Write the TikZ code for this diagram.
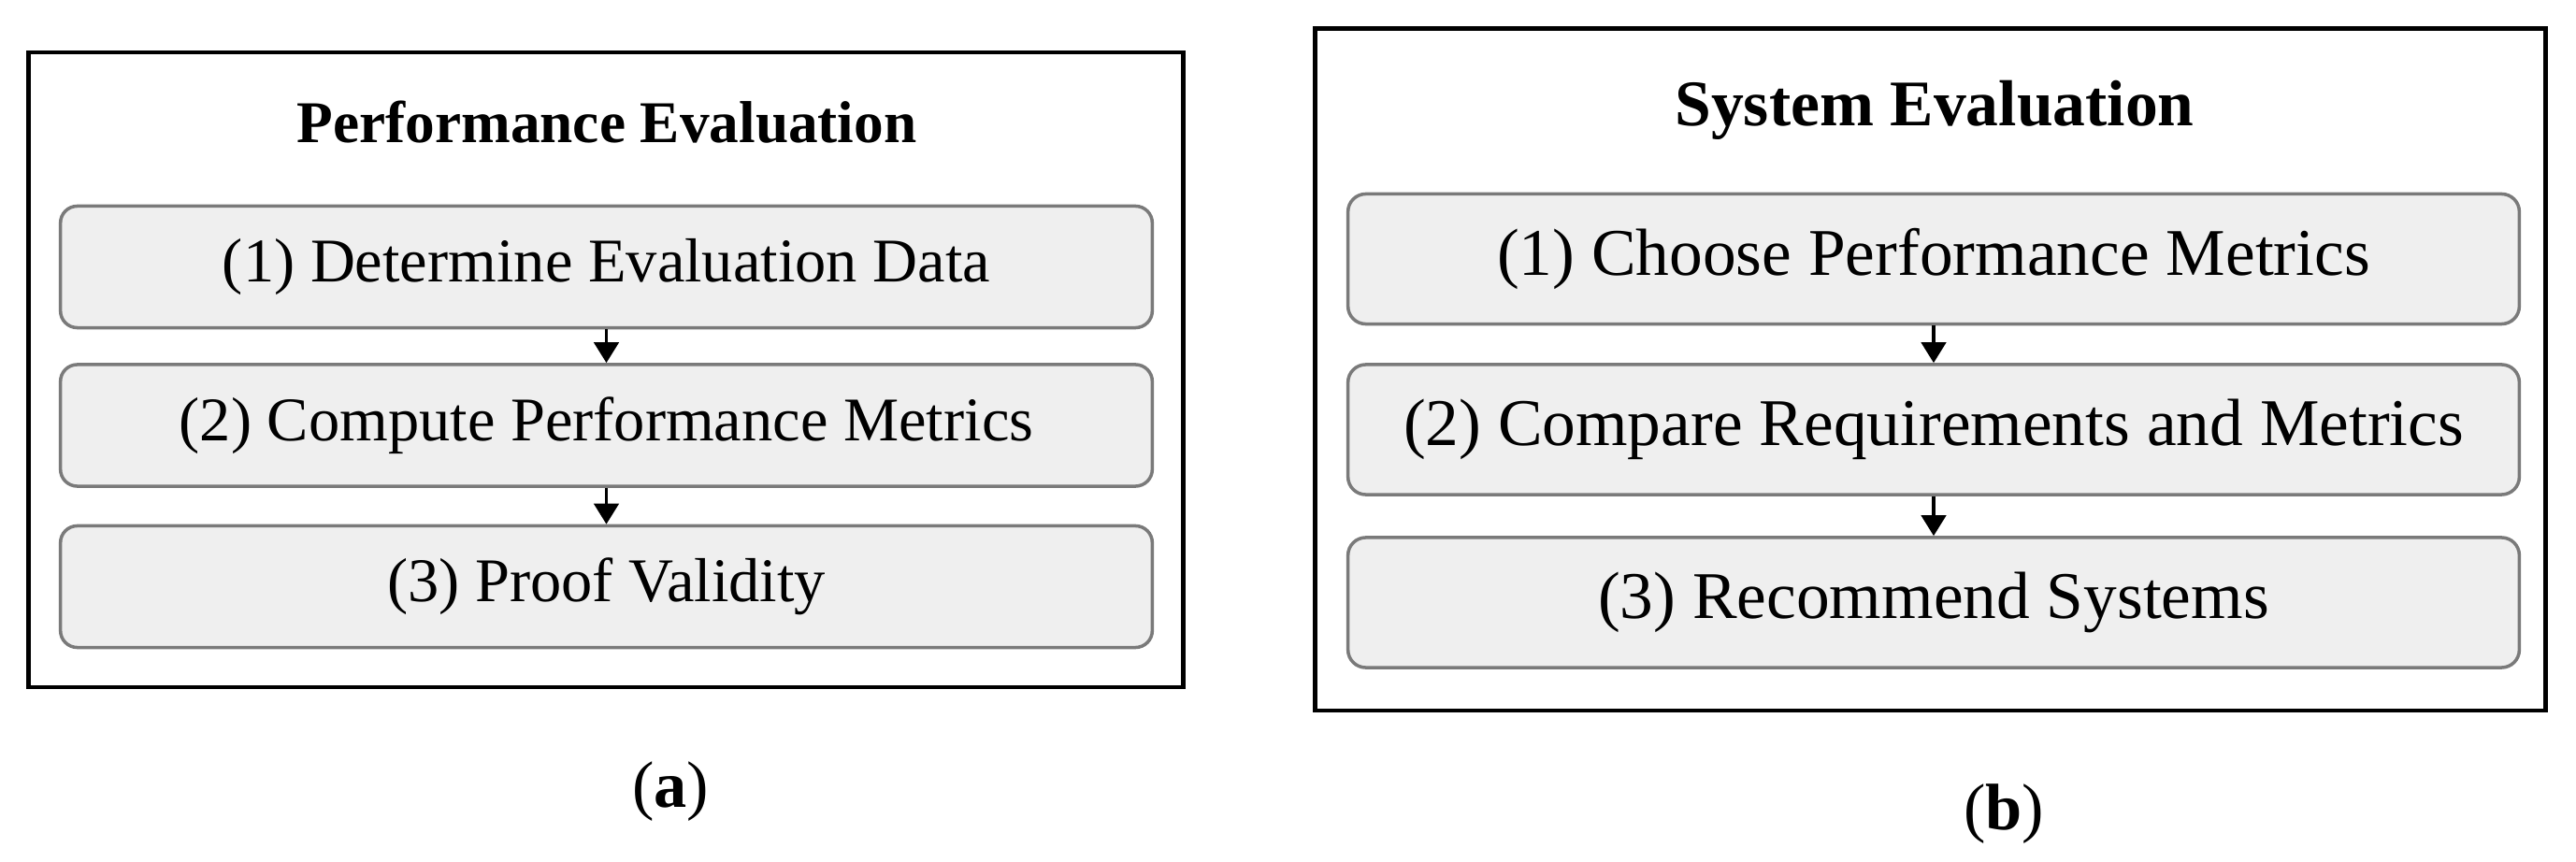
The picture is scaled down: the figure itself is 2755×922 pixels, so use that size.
\documentclass[tikz,border=0pt]{standalone}
\usepackage{fontspec}
\setmainfont{Liberation Serif}
\usetikzlibrary{arrows.meta}
\definecolor{boxfill}{HTML}{EFEFEF}
\definecolor{boxborder}{HTML}{7A7A7A}
\begin{document}
\begin{tikzpicture}[x=0.01cm,y=-0.01cm,
  frame/.style={draw=black,line width=1.3pt,inner sep=0pt},
  stepboxA/.style={draw=boxborder,fill=boxfill,rounded corners=0.18cm,line width=1pt,inner sep=0pt,
     minimum width=11.67cm,minimum height=1.30cm,font=\fontsize{18.9}{22}\selectfont},
  stepboxB/.style={draw=boxborder,fill=boxfill,rounded corners=0.19cm,line width=1pt,inner sep=0pt,
     minimum width=12.52cm,minimum height=1.39cm,font=\fontsize{20.3}{24}\selectfont},
  flow/.style={-{Triangle[length=6.3pt,width=7.5pt]},line width=1.1pt,draw=black},
  capt/.style={anchor=base,inner sep=0pt,font=\fontsize{20}{24}\selectfont}]
\useasboundingbox (0,0) rectangle (2755,922);
% panel (a)
\node[frame,minimum width=12.34cm,minimum height=6.79cm] (frameA) at (648,395.5) {};
\node[anchor=base,inner sep=0pt,font=\fontsize{18}{21}\selectfont\bfseries] (titleA) at (649,153) {Performance Evaluation};
\node[stepboxA] (a1) at (648.5,285.5) {(1) Determine Evaluation Data};
\node[stepboxA] (a2) at (648.5,455) {(2) Compute Performance Metrics};
\node[stepboxA] (a3) at (648.5,627.5) {(3) Proof Validity};
\draw[flow] (a1) -- (a2);
\draw[flow] (a2) -- (a3);
\node[capt] (captA) at (717,863) {(\textbf{a})};
% panel (b)
\node[frame,minimum width=13.15cm,minimum height=7.29cm] (frameB) at (2064.5,395.5) {};
\node[anchor=base,inner sep=0pt,font=\fontsize{19.8}{23}\selectfont\bfseries] (titleB) at (2069,135) {System Evaluation};
\node[stepboxB] (b1) at (2068,277) {(1) Choose Performance Metrics};
\node[stepboxB] (b2) at (2068,459.5) {(2) Compare Requirements and Metrics};
\node[stepboxB] (b3) at (2068,644.5) {(3) Recommend Systems};
\draw[flow] (b1) -- (b2);
\draw[flow] (b2) -- (b3);
\node[capt] (captB) at (2143,887) {(\textbf{b})};
\end{tikzpicture}
\end{document}
